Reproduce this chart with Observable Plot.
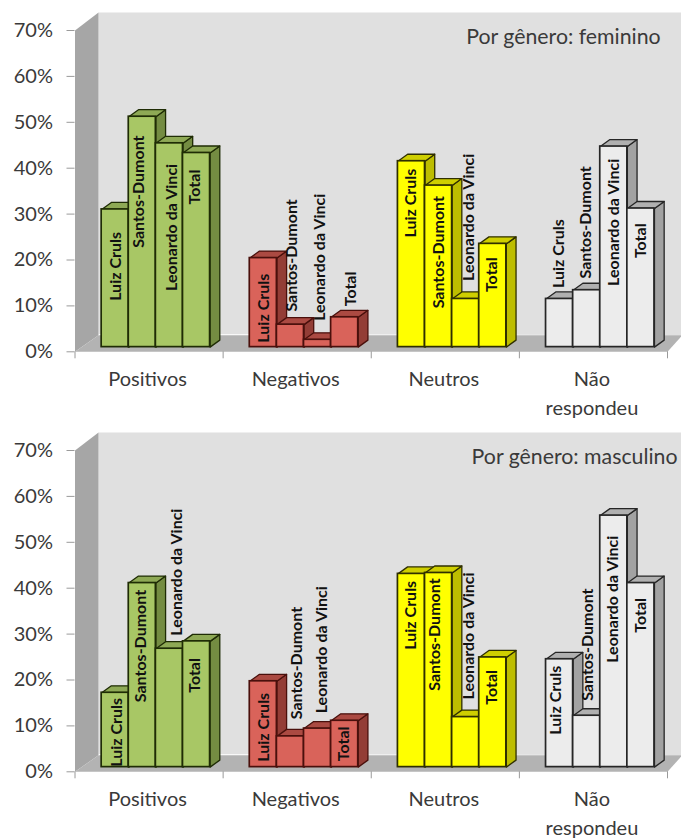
<!DOCTYPE html>
<html>
<head>
<meta charset="utf-8">
<script src="https://cdn.jsdelivr.net/npm/d3@7"></script>
<script src="https://cdn.jsdelivr.net/npm/@observablehq/plot@0.6"></script>
<style>
html,body{margin:0;padding:0;background:#fff}
svg{display:block}
</style>
</head>
<body>
<div id="chart"></div>
<script>
const categories = ["Positivos", "Negativos", "Neutros", "Não\nrespondeu"];
const schools = ["Luiz Cruls", "Santos-Dumont", "Leonardo da Vinci", "Total"];
const yTicks = [0, 10, 20, 30, 40, 50, 60, 70];

const femininoPositivos = [30.0, 50.2, 44.4, 42.3];
const femininoNegativos = [19.4, 4.9, 1.6, 6.5];
const femininoNeutros = [40.5, 35.2, 10.5, 22.5];
const femininoNaoRespondeu = [10.5, 12.4, 43.7, 30.2];

const masculinoPositivos = [16.2, 40.1, 25.8, 27.4];
const masculinoNegativos = [18.7, 6.7, 8.4, 10.1];
const masculinoNeutros = [42.1, 42.3, 10.9, 23.9];
const masculinoNaoRespondeu = [23.5, 11.2, 54.8, 40.1];

// Label anchors, in chart units (category position, percent)
const femLabelX = [[0.273,0.431,0.656,0.809],[1.275,1.467,1.653,1.860],[2.265,2.455,2.657,2.817],[3.265,3.447,3.636,3.818]];
const femLabelY = [[18.6,34.9,27.1,35.9],[9.5,21.0,20.6,13.7],[32.4,21.7,29.3,16.8],[21.4,28.2,28.2,24.2]];
const mascLabelX = [[0.285,0.442,0.690,0.809],[1.275,1.500,1.669,1.815],[2.265,2.429,2.659,2.817],[3.245,3.465,3.634,3.818]];
const mascLabelY = [[8.6,27.4,43.5,21.0],[9.7,23.7,26.6,6.1],[34.1,29.9,29.6,18.4],[15.6,27.7,37.6,34.1]];

const palettes = [
  {front:"#a8c765", top:"#8ea955", side:"#748c42", line:"#1f2c05"},
  {front:"#d9635a", top:"#ab4a42", side:"#933d36", line:"#4a100c"},
  {front:"#ffff00", top:"#cfcf00", side:"#bdbd00", line:"#2f2f00"},
  {front:"#ececec", top:"#b0b0b0", side:"#a2a2a2", line:"#262626"}
];

// 3D layout in chart units
const barStart = 0.18, barStep = 0.183, baseY = 1.02, depthX = 0.0655, depthY = 1.52;
const wallX = 0.1587, wallY = 3.9, floorY = 3.6, rightEdge = 4.1;
const font = "Lato, Carlito, sans-serif";
const ink = "#3a3a3a";

function buildChart(series, labelX, labelY, title, titleX, height) {
  const bars = [];
  series.forEach((vals, g) => vals.forEach((v, i) => {
    bars.push({g, i, v, x0: g + barStart + barStep * i, x1: g + barStart + barStep * (i + 1), pal: palettes[g],
      y1: v + baseY, name: schools[i], lx: labelX[g][i], ly: labelY[g][i]});
  }));

  const faces = [];
  const poly = (id, fill, stroke, pts) => pts.forEach(([x, y]) => faces.push({id, fill, stroke, x, y}));
  bars.forEach((b, k) => {
    poly("s" + k, b.pal.side, b.pal.line, [[b.x1, baseY], [b.x1 + depthX, baseY + depthY], [b.x1 + depthX, b.y1 + depthY], [b.x1, b.y1]]);
    poly("t" + k, b.pal.top, b.pal.line, [[b.x0, b.y1], [b.x0 + depthX, b.y1 + depthY], [b.x1 + depthX, b.y1 + depthY], [b.x1, b.y1]]);
  });

  const wall = [
    {id:"back", fill:"#e0e0e0", x:wallX, y:wallY},
    {id:"back", fill:"#e0e0e0", x:wallX, y:70 + wallY},
    {id:"back", fill:"#e0e0e0", x:rightEdge, y:70 + wallY},
    {id:"back", fill:"#e0e0e0", x:rightEdge, y:floorY},
    {id:"side", fill:"#a6a6a6", x:0, y:0},
    {id:"side", fill:"#a6a6a6", x:0, y:70},
    {id:"side", fill:"#a6a6a6", x:wallX, y:70 + wallY},
    {id:"side", fill:"#a6a6a6", x:wallX, y:floorY},
    {id:"floor", fill:"#b3b3b3", x:0, y:0},
    {id:"floor", fill:"#b3b3b3", x:wallX, y:floorY},
    {id:"floor", fill:"#b3b3b3", x:rightEdge, y:floorY},
    {id:"floor", fill:"#b3b3b3", x:4, y:0}
  ];

  return Plot.plot({
    width: 681,
    height,
    marginLeft: 74.5,
    marginRight: 14,
    marginTop: 30,
    marginBottom: height - 351.3,
    style: {background: "#fff", fontFamily: font},
    x: {domain: [0, 4], range: [74.5, 667], axis: null},
    y: {domain: [0, 70], axis: null},
    color: {type: "identity"},
    marks: [
      Plot.line(wall, {x:"x", y:"y", z:"id", fill:"fill", stroke:"none", curve:"linear-closed"}),
      Plot.axisY({ticks: yTicks, tickFormat: d => d + "%", tickSize: 8, tickPadding: 14, stroke: "#9a9a9a",
        label: null, fontSize: 20, fill: ink, textStroke: "none"}),
      Plot.axisX({ticks: [0, 1, 2, 3, 4], tickFormat: () => "", tickSize: 7, tickPadding: 0, stroke: "#9a9a9a", label: null}),
      Plot.line(faces, {x:"x", y:"y", z:"id", fill:"fill", stroke:"stroke", strokeWidth:1.3, curve:"linear-closed"}),
      Plot.rect(bars, {x1:"x0", x2:"x1", y1:baseY, y2:"y1", fill:d => d.pal.front, stroke:d => d.pal.line, strokeWidth:1.7, inset:0}),
      Plot.text(bars, {x:"lx", y:"ly", text:"name", rotate:-90, fontSize:16, fontWeight:700, fill:"#111", fontFamily:font}),
      Plot.text(categories, {x:(d, i) => i + 0.49, y:0, text:d => d, dy:14, lineAnchor:"top", lineHeight:1.45,
        fontSize:20, fill:ink, fontFamily:font}),
      Plot.text([title], {x:titleX, y:68.5, text:d => d, textAnchor:"end", fontSize:21.3, fill:ink, fontFamily:font})
    ]
  });
}

const root = document.getElementById("chart");
root.appendChild(buildChart(
  [femininoPositivos, femininoNegativos, femininoNeutros, femininoNaoRespondeu],
  femLabelX, femLabelY, "Por gênero: feminino", 3.954, 420));
root.appendChild(buildChart(
  [masculinoPositivos, masculinoNegativos, masculinoNeutros, masculinoNaoRespondeu],
  mascLabelX, mascLabelY, "Por gênero: masculino", 4.068, 419));
</script>
</body>
</html>
